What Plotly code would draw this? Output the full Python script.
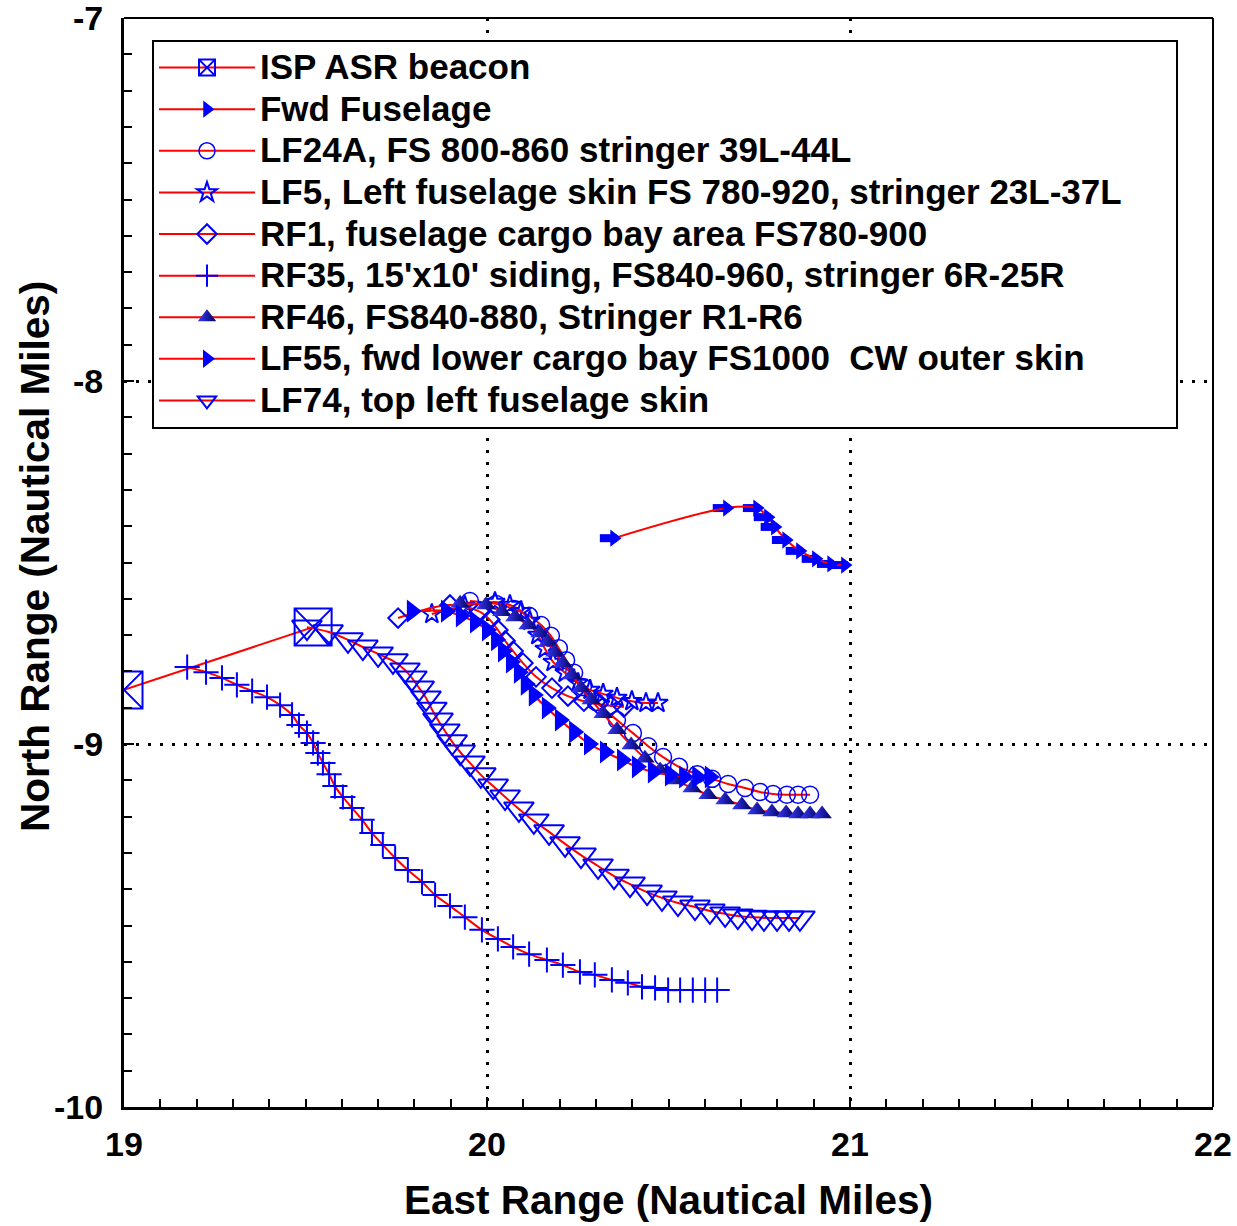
import plotly.graph_objects as go

# ---------------- data (nautical miles) ----------------
beacon_x = [19.000, 19.521]
beacon_y = [-8.851, -8.678]

fwd_x = [20.350, 20.661, 20.744, 20.774, 20.793, 20.824, 20.862, 20.906, 20.948, 20.986]
fwd_y = [-8.433, -8.350, -8.350, -8.375, -8.402, -8.438, -8.468, -8.490, -8.504, -8.507]

lf24a_x = [19.953, 20.025, 20.074, 20.116, 20.149, 20.176, 20.198, 20.218, 20.240, 20.264, 20.300, 20.358,
           20.402, 20.444, 20.485, 20.529, 20.579, 20.620, 20.664, 20.711, 20.752, 20.788, 20.826, 20.857, 20.890]
lf24a_y = [-8.606, -8.614, -8.628, -8.647, -8.672, -8.702, -8.736, -8.769, -8.804, -8.843, -8.884, -8.934,
           -8.970, -9.006, -9.036, -9.063, -9.083, -9.096, -9.110, -9.121, -9.132, -9.138, -9.140, -9.140, -9.140]

lf5_x = [19.848, 19.939, 20.022, 20.063, 20.094, 20.118, 20.140, 20.160, 20.182, 20.215, 20.251, 20.284,
         20.320, 20.358, 20.399, 20.438, 20.471]
lf5_y = [-8.642, -8.620, -8.609, -8.617, -8.634, -8.661, -8.700, -8.738, -8.774, -8.804, -8.832, -8.851,
         -8.862, -8.873, -8.882, -8.887, -8.887]

rf1_x = [19.755, 19.898, 19.981, 20.008, 20.030, 20.050, 20.072, 20.099, 20.135, 20.179, 20.223, 20.267,
         20.306, 20.342, 20.377]
rf1_y = [-8.653, -8.617, -8.636, -8.658, -8.686, -8.716, -8.744, -8.777, -8.815, -8.846, -8.868, -8.882,
         -8.890, -8.895, -8.898]

rf35_x = [19.174, 19.226, 19.270, 19.311, 19.353, 19.394, 19.430, 19.463, 19.482, 19.504, 19.521, 19.534,
          19.548, 19.565, 19.581, 19.603, 19.628, 19.656, 19.683, 19.713, 19.747, 19.782, 19.821, 19.857,
          19.898, 19.939, 19.986, 20.030, 20.072, 20.116, 20.165, 20.209, 20.256, 20.297, 20.344, 20.388,
          20.427, 20.463, 20.499, 20.532, 20.567, 20.601, 20.634]
rf35_y = [-8.788, -8.802, -8.818, -8.837, -8.854, -8.871, -8.893, -8.920, -8.948, -8.970, -8.997, -9.025,
          -9.052, -9.083, -9.116, -9.146, -9.176, -9.209, -9.245, -9.278, -9.314, -9.347, -9.380, -9.416,
          -9.446, -9.477, -9.512, -9.537, -9.559, -9.579, -9.595, -9.609, -9.628, -9.636, -9.650, -9.658,
          -9.669, -9.672, -9.678, -9.678, -9.678, -9.678, -9.678]

rf46_x = [19.926, 19.997, 20.041, 20.077, 20.113, 20.146, 20.168, 20.187, 20.209, 20.234, 20.259, 20.287,
          20.320, 20.358, 20.397, 20.435, 20.477, 20.518, 20.565, 20.609, 20.656, 20.702, 20.744, 20.785,
          20.824, 20.857, 20.890, 20.923]
rf46_y = [-8.612, -8.617, -8.636, -8.650, -8.672, -8.694, -8.719, -8.747, -8.777, -8.810, -8.846, -8.879,
          -8.917, -8.961, -9.003, -9.039, -9.072, -9.099, -9.121, -9.140, -9.154, -9.168, -9.182, -9.187,
          -9.190, -9.193, -9.193, -9.193]

lf55_x = [19.793, 19.887, 19.928, 19.967, 20.000, 20.025, 20.044, 20.066, 20.088, 20.107, 20.129, 20.165,
          20.201, 20.240, 20.281, 20.325, 20.372, 20.413, 20.457, 20.504, 20.543, 20.579, 20.614]
lf55_y = [-8.634, -8.634, -8.647, -8.664, -8.686, -8.713, -8.744, -8.774, -8.802, -8.835, -8.865, -8.901,
          -8.934, -8.967, -9.000, -9.022, -9.044, -9.063, -9.077, -9.085, -9.091, -9.091, -9.091]

lf74_x = [19.504, 19.562, 19.617, 19.658, 19.700, 19.741, 19.774, 19.793, 19.813, 19.832, 19.848, 19.865,
          19.884, 19.904, 19.926, 19.953, 19.983, 20.017, 20.050, 20.088, 20.129, 20.171, 20.215, 20.259,
          20.306, 20.350, 20.394, 20.441, 20.482, 20.526, 20.573, 20.614, 20.656, 20.691, 20.730, 20.763,
          20.799, 20.832, 20.862]
lf74_y = [-8.678, -8.691, -8.713, -8.733, -8.752, -8.771, -8.796, -8.818, -8.846, -8.873, -8.904, -8.934,
          -8.964, -8.994, -9.022, -9.052, -9.085, -9.116, -9.146, -9.179, -9.212, -9.242, -9.275, -9.306,
          -9.336, -9.364, -9.386, -9.408, -9.424, -9.438, -9.449, -9.460, -9.468, -9.474, -9.477, -9.479,
          -9.479, -9.479, -9.479]

names = [
    "ISP ASR beacon",
    "Fwd Fuselage",
    "LF24A, FS 800-860 stringer 39L-44L",
    "LF5, Left fuselage skin FS 780-920, stringer 23L-37L",
    "RF1, fuselage cargo bay area FS780-900",
    "RF35, 15'x10' siding, FS840-960, stringer 6R-25R",
    "RF46, FS840-880, Stringer R1-R6",
    "LF55, fwd lower cargo bay FS1000\u00a0 CW outer skin",
    "LF74, top left fuselage skin",
]

x_tickvals = [19, 20, 21, 22]
x_ticktext = ["19", "20", "21", "22"]
y_tickvals = [-7, -8, -9, -10]
y_ticktext = ["-7", "-8", "-9", "-10"]

x_title = "East Range (Nautical Miles)"
y_title = "North Range (Nautical Miles)"

# ---------------- style ----------------
BLUE = "#0000ff"
RED = "#ff0000"
FONT = "Arial, Liberation Sans, sans-serif"
ARROW_SHAFT_OFFSET = 0.016  # shaft drawn slightly behind arrow head
LEGEND_PAD = "\u00a0" * 5   # right padding inside the legend box


def lbl(t, pad=""):
    return '<span style="font-size:35px">' + t + pad + '</span>'


fig = go.Figure()

line_style = dict(color=RED, width=2, shape="spline", smoothing=1)

fig.add_trace(go.Scatter(x=beacon_x, y=beacon_y, mode="lines+markers", name=lbl(names[0]),
                         line=dict(color=RED, width=2),
                         marker=dict(symbol="square-x-open", size=37, color=BLUE, line=dict(width=2, color=BLUE))))

fig.add_trace(go.Scatter(x=[v - ARROW_SHAFT_OFFSET for v in fwd_x], y=fwd_y, mode="markers",
                         showlegend=False, hoverinfo="skip",
                         marker=dict(symbol="line-ew", size=12, color=BLUE, line=dict(width=8, color=BLUE))))
fig.add_trace(go.Scatter(x=fwd_x, y=fwd_y, mode="lines+markers", name=lbl(names[1]), line=line_style,
                         marker=dict(symbol="triangle-right", size=15, color=BLUE, line=dict(width=0))))

fig.add_trace(go.Scatter(x=lf24a_x, y=lf24a_y, mode="lines+markers", name=lbl(names[2]), line=line_style,
                         marker=dict(symbol="circle-open", size=17, color=BLUE, line=dict(width=1.5, color=BLUE))))

fig.add_trace(go.Scatter(x=lf5_x, y=lf5_y, mode="lines+markers", name=lbl(names[3], LEGEND_PAD), line=line_style,
                         marker=dict(symbol="star-open", size=15, color=BLUE, line=dict(width=2, color=BLUE))))

fig.add_trace(go.Scatter(x=rf1_x, y=rf1_y, mode="lines+markers", name=lbl(names[4]), line=line_style,
                         marker=dict(symbol="diamond-open", size=15, color=BLUE, line=dict(width=2, color=BLUE))))

fig.add_trace(go.Scatter(x=rf35_x, y=rf35_y, mode="lines+markers", name=lbl(names[5]), line=line_style,
                         marker=dict(symbol="cross-thin-open", size=18, color=BLUE, line=dict(width=2, color=BLUE))))

fig.add_trace(go.Scatter(x=rf46_x, y=rf46_y, mode="lines+markers", name=lbl(names[6]), line=line_style,
                         marker=dict(symbol="triangle-up", size=17, color="#3a3aff",
                                     gradient=dict(type="horizontal", color="#000058"),
                                     line=dict(width=0))))

fig.add_trace(go.Scatter(x=lf55_x, y=lf55_y, mode="lines+markers", name=lbl(names[7]), line=line_style,
                         marker=dict(symbol="triangle-right", size=20, color=BLUE, line=dict(width=0))))

fig.add_trace(go.Scatter(x=lf74_x, y=lf74_y, mode="lines+markers", name=lbl(names[8]), line=line_style,
                         marker=dict(symbol="triangle-down-open", size=26, color=BLUE, line=dict(width=2, color=BLUE))))

axis_common = dict(
    showline=True, linecolor="black", linewidth=3, mirror=False, automargin=False,
    ticks="inside", ticklen=10, tickwidth=2, tickcolor="black",
    showgrid=True, gridcolor="black", gridwidth=3, griddash="3px,9px",
    zeroline=False, ticklabeloverflow="allow",
    tickfont=dict(family=FONT, size=34, color="black", weight="bold"),
    minor=dict(dtick=0.1, ticks="inside", ticklen=8, tickwidth=2, tickcolor="black", showgrid=False),
)

fig.update_xaxes(range=[19, 22], tickmode="array", tickvals=x_tickvals, ticktext=x_ticktext,
                 ticklabelstandoff=5,
                 title=dict(text=x_title, standoff=24,
                            font=dict(family=FONT, size=40.5, color="black", weight="bold")),
                 **axis_common)
fig.update_yaxes(range=[-10, -7], tickmode="array", tickvals=y_tickvals, ticktext=y_ticktext,
                 ticklabelstandoff=11,
                 **axis_common)

fig.update_layout(
    width=1237, height=1226, autosize=False,
    margin=dict(l=124, r=24, t=18, b=119),
    plot_bgcolor="white", paper_bgcolor="white",
    font=dict(family=FONT, color="black"),
    legend=dict(x=0.0257, y=0.98, xanchor="left", yanchor="top",
                bgcolor="white", bordercolor="black", borderwidth=2,
                font=dict(family=FONT, size=29.7, color="black", weight="bold"),
                itemwidth=96, tracegroupgap=0),
    annotations=[
        dict(text=y_title, textangle=-90, xref="paper", yref="paper", x=0, y=0.505,
             xanchor="center", yanchor="middle", xshift=-89, showarrow=False,
             font=dict(family=FONT, size=40.5, color="black", weight="bold")),
    ],
    shapes=[
        dict(type="line", xref="paper", yref="paper", x0=0, x1=1, y0=1, y1=1,
             line=dict(color="black", width=2)),
        dict(type="line", xref="paper", yref="paper", x0=1, x1=1, y0=0, y1=1,
             line=dict(color="black", width=2)),
    ],
)

fig.write_html("out.html")
